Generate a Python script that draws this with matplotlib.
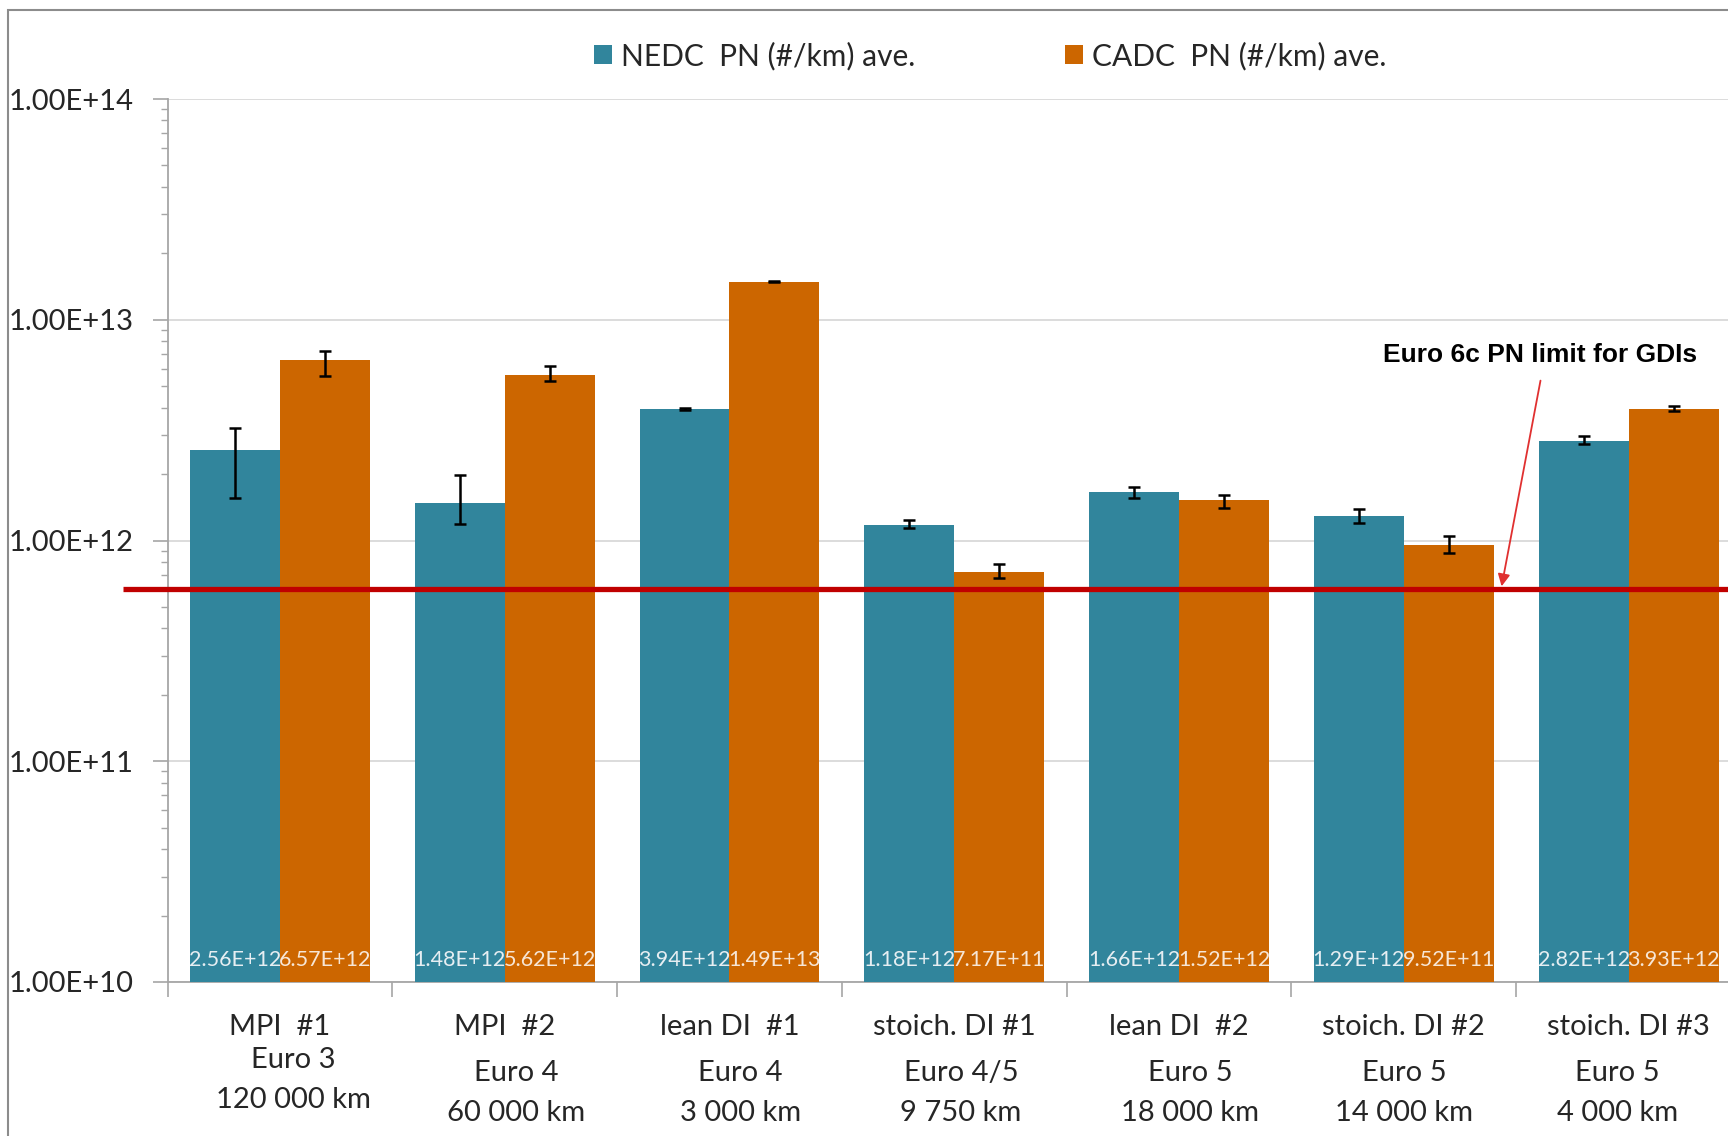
import matplotlib
matplotlib.use("Agg")
import matplotlib.pyplot as plt
import numpy as np
from matplotlib.patches import Patch, Rectangle
from matplotlib.ticker import FuncFormatter, LogLocator, NullFormatter, FixedLocator
import matplotlib.transforms as mtransforms

# ---- data -------------------------------------------------------------
vehicles = ["MPI  #1", "MPI  #2", "lean DI  #1", "stoich. DI #1",
            "lean DI  #2", "stoich. DI #2", "stoich. DI #3"]
euro_class = ["Euro 3", "Euro 4", "Euro 4", "Euro 4/5", "Euro 5", "Euro 5", "Euro 5"]
mileage = ["120 000 km", "60 000 km", "3 000 km", "9 750 km",
           "18 000 km", "14 000 km", "4 000 km"]

nedc_pn = [2.56e12, 1.48e12, 3.94e12, 1.18e12, 1.66e12, 1.29e12, 2.82e12]
cadc_pn = [6.57e12, 5.62e12, 1.49e13, 7.17e11, 1.52e12, 9.52e11, 3.93e12]

# lower / upper error bar extents
nedc_err_low = [1.00e12, 0.29e12, 0.04e12, 0.04e12, 0.11e12, 0.09e12, 0.08e12]
nedc_err_high = [0.67e12, 0.51e12, 0.04e12, 0.06e12, 0.09e12, 0.10e12, 0.16e12]
cadc_err_low = [1.02e12, 0.32e12, 0.01e13, 0.38e11, 0.11e12, 0.71e11, 0.07e12]
cadc_err_high = [0.66e12, 0.54e12, 0.01e13, 0.68e11, 0.08e12, 0.98e11, 0.13e12]

pn_limit = 6.0e11
series_names = ["NEDC  PN (#/km) ave.", "CADC  PN (#/km) ave."]
limit_label = "Euro 6c PN limit for GDIs"

# ---- style ------------------------------------------------------------
TEAL = "#31859C"
ORANGE = "#CC6600"
RED = "#C00000"
GRID = "#D9D9D9"
AXIS = "#A6A6A6"
TXT = "#262626"
plt.rcParams["font.family"] = ["Lato", "DejaVu Sans"]

W, H = 1728, 1136
fig = plt.figure(figsize=(W / 100, H / 100), dpi=100)

# outer frame of the chart area
fig.patches.append(Rectangle((8 / W, -0.05), 1.2, 1 - 10 / H + 0.05,
                             transform=fig.transFigure, fill=False,
                             edgecolor="#8C8C8C", linewidth=1.5, zorder=0))

ax_l, ax_r = 167.5 / W, 1741 / W
ax_b, ax_t = 1 - 982 / H, 1 - 99 / H
ax = fig.add_axes([ax_l, ax_b, ax_r - ax_l, ax_t - ax_b])

n = len(vehicles)
x = np.arange(n) + 0.5
bw = 0.40

ax.set_yscale("log")
ax.set_ylim(1e10, 1e14)
ax.set_xlim(0, n)

err_kw = dict(ecolor="black", elinewidth=1.8, capsize=4.5, capthick=1.8)
ax.bar(x - bw / 2, nedc_pn, bw, color=TEAL, zorder=3,
       yerr=[nedc_err_low, nedc_err_high], error_kw=err_kw)
ax.bar(x + bw / 2, cadc_pn, bw, color=ORANGE, zorder=3,
       yerr=[cadc_err_low, cadc_err_high], error_kw=err_kw)

# value labels at the foot of each bar
lab_tr = mtransforms.blended_transform_factory(ax.transData, ax.transAxes)
lab_y = (982 - 960) / (982 - 99)
for xi, vn, vc in zip(x, nedc_pn, cadc_pn):
    ax.text(xi - bw / 2, lab_y, f"{vn:.2E}", transform=lab_tr, ha="center",
            va="center", color="#E6EEF2", fontsize=15.5, zorder=5)
    ax.text(xi + bw / 2, lab_y, f"{vc:.2E}", transform=lab_tr, ha="center",
            va="center", color="#F7E6D6", fontsize=15.5, zorder=5)

# grid and axes
ax.yaxis.set_major_locator(LogLocator(base=10, numticks=10))
ax.yaxis.set_minor_locator(LogLocator(base=10, subs=np.arange(2, 10), numticks=20))
ax.yaxis.set_minor_formatter(NullFormatter())
ax.yaxis.set_major_formatter(FuncFormatter(lambda v, p: f"{v:.2E}"))
ax.grid(axis="y", which="major", color=GRID, linewidth=1.3, zorder=0)
ax.tick_params(axis="y", which="major", length=11, width=1.2, color=AXIS,
               labelsize=21, labelcolor=TXT, pad=13.5)
ax.tick_params(axis="y", which="minor", length=5, width=1.0, color=AXIS)
ax.xaxis.set_major_locator(FixedLocator(np.arange(0, n + 1)))
ax.tick_params(axis="x", which="major", length=11, width=1.2, color=AXIS,
               labelbottom=False)
for s in ["top", "right"]:
    ax.spines[s].set_visible(False)
for s in ["left", "bottom"]:
    ax.spines[s].set_color(AXIS)
    ax.spines[s].set_linewidth(1.3)

# category labels, three lines each
cat_tr = mtransforms.blended_transform_factory(ax.transData, fig.transFigure)
line2_y = [1060, 1073, 1073, 1073, 1073, 1073, 1073]
line3_y = [1100, 1113, 1113, 1113, 1113, 1113, 1113]
shift = [0.06, 0.05, 0.05, 0.03, 0.05, 0.0, -0.05]
for i in range(n):
    ax.text(x[i], 1 - 1027 / H, vehicles[i], transform=cat_tr, ha="center",
            va="center", fontsize=21, color=TXT)
    ax.text(x[i] + shift[i], 1 - line2_y[i] / H, euro_class[i], transform=cat_tr,
            ha="center", va="center", fontsize=21, color=TXT)
    ax.text(x[i] + shift[i], 1 - line3_y[i] / H, mileage[i], transform=cat_tr,
            ha="center", va="center", fontsize=21, color=TXT)

# Euro 6c limit line
lim_tr = mtransforms.blended_transform_factory(ax.transAxes, ax.transData)
ax.plot([-0.028, 1.0], [pn_limit, pn_limit], transform=lim_tr, color=RED,
        linewidth=3.8, clip_on=False, zorder=6, solid_capstyle="butt")

ax.annotate("", xy=(5.935, 6.2e11), xytext=(6.108, 5.3e12),
            arrowprops=dict(arrowstyle="-|>", color="#E03030", lw=1.3,
                            mutation_scale=18, shrinkA=0, shrinkB=0),
            zorder=7, annotation_clip=False)
ax.text(6.105, 6.9e12, limit_label, ha="center", va="center",
        fontsize=19, fontweight="bold", family="Liberation Sans",
        color="black", zorder=7, clip_on=False)

# legend
handles = [Patch(facecolor=TEAL, edgecolor="none"),
           Patch(facecolor=ORANGE, edgecolor="none")]
fig.legend(handles, series_names, loc="center", bbox_to_anchor=(0.573, 1 - 56 / H),
           ncol=2, frameon=False, fontsize=21.5, handlelength=0.6, handleheight=0.6,
           handletextpad=0.3, columnspacing=5.0, labelcolor=TXT)

fig.savefig("out.png", dpi=100)
